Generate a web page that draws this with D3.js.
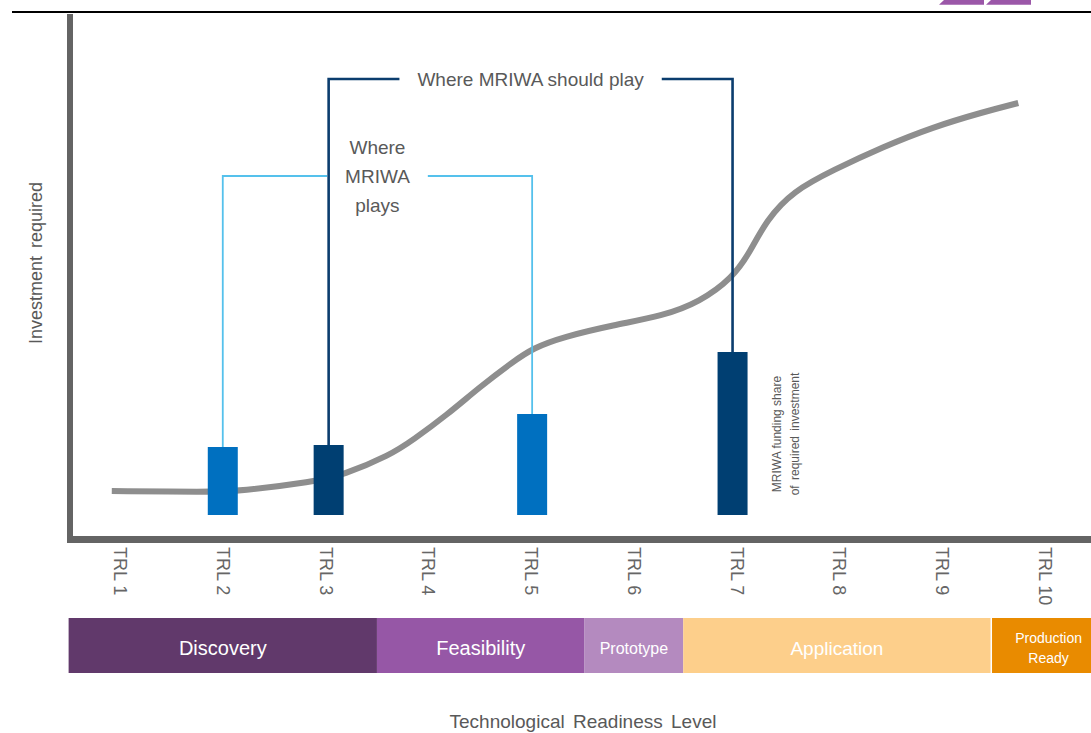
<!DOCTYPE html>
<html>
<head>
<meta charset="utf-8">
<script src="https://cdn.jsdelivr.net/npm/d3@7"></script>
<style>
  body { margin: 0; background: #fff; }
  svg { display: block; font-family: "Liberation Sans", Arial, sans-serif; }
</style>
</head>
<body>
<div id="chart"></div>
<script>
// TRL axis
const trlValues = [1, 2, 3, 4, 5, 6, 7, 8, 9, 10]
const trlLabels = ['TRL 1', 'TRL 2', 'TRL 3', 'TRL 4', 'TRL 5', 'TRL 6', 'TRL 7', 'TRL 8', 'TRL 9', 'TRL 10']

// investment curve (TRL, relative investment 0-100)
const curveTRL = [0.92, 1.85, 2.17, 2.88, 3.17, 3.63, 3.85, 4.18, 4.50, 4.82, 5.02, 5.31, 5.80, 6.28, 6.64, 6.96, 7.13, 7.29, 7.55, 7.94, 8.42, 8.91, 9.40, 9.74]
const curveInvest = [4.8, 4.6, 4.8, 6.6, 8.0, 12.0, 15.0, 20.0, 25.6, 30.6, 33.4, 35.6, 38.0, 39.8, 42.6, 47.4, 52.6, 59.0, 64.8, 69.0, 73.6, 77.6, 80.6, 82.4]

// MRIWA funding share bars
const barTRL = [2, 3.03, 5.01, 6.96]
const barShare = [13.6, 14.0, 20.2, 32.6]
const barColors = ['#0070c0', '#003f72', '#0070c0', '#003f72']

// brackets
const bracketLabels = [['Where', 'MRIWA', 'plays'], ['Where MRIWA should play']]
const bracketFrom = [0, 1]   // index into bars
const bracketTo = [2, 3]
const bracketLevel = [67.8, 87.2]
const bracketColors = ['#55c1ec', '#0b3d6e']

// phases
const phaseNames = ['Discovery', 'Feasibility', 'Prototype', 'Application', 'Production Ready']
const phaseStart = [0.5, 3.5, 5.52, 6.48, 9.47]
const phaseEnd = [3.5, 5.52, 6.48, 9.47, 10.6]
const phaseColors = ['#61396b', '#9657a6', '#b48abf', '#fdcf8b', '#e98b00']
const phaseFont = [20, 20, 16, 19, 14]

const width = 1091, height = 733
const svg = d3.select('#chart').append('svg')
    .attr('width', width)
    .attr('height', height)

let x = d3.scaleLinear().domain([1, 10]).range([120, 1045])
let y = d3.scaleLinear().domain([0, 100]).range([515, 15])

const grey = '#595959'

// header line + cut-off logo bits
svg.append('line')
    .attr('x1', 12).attr('x2', width)
    .attr('y1', 12).attr('y2', 12)
    .attr('stroke', '#000')
    .attr('stroke-width', 2.2)
svg.append('g')
    .attr('fill', '#9b57a8')
    .selectAll('path')
    .data([[939, 984], [986, 1031]])
    .enter()
    .append('path')
        .attr('d', d => `M${d[0] + 5},0H${d[1]}V4.7H${d[0]}Z`)

// curve
let line = d3.line()
    .x(d => x(d[0]))
    .y(d => y(d[1]))
    .curve(d3.curveBasis)
svg.append('path')
    .datum(curveTRL.map((t, i) => [t, curveInvest[i]]))
    .attr('d', line)
    .attr('fill', 'none')
    .attr('stroke', '#8e8e8e')
    .attr('stroke-width', 6)

// axes
svg.append('line')
    .attr('x1', 70).attr('x2', 70)
    .attr('y1', 14).attr('y2', 543)
    .attr('stroke', '#646464')
    .attr('stroke-width', 6)
svg.append('line')
    .attr('x1', 67).attr('x2', width)
    .attr('y1', 539.5).attr('y2', 539.5)
    .attr('stroke', '#646464')
    .attr('stroke-width', 7)

svg.append('g').selectAll('text')
    .data(trlValues)
    .enter()
    .append('text')
        .attr('transform', d => `translate(${x(d)},547) rotate(90)`)
        .attr('dominant-baseline', 'central')
        .attr('font-size', 18)
        .attr('fill', '#666')
        .text((d, i) => trlLabels[i])

svg.append('text')
    .attr('transform', 'translate(36,263) rotate(-90)')
    .attr('text-anchor', 'middle')
    .attr('dominant-baseline', 'central')
    .attr('font-size', 18)
    .attr('fill', grey)
    .attr('word-spacing', 3)
    .text('Investment required')

svg.append('text')
    .attr('x', 583).attr('y', 721)
    .attr('text-anchor', 'middle')
    .attr('dominant-baseline', 'central')
    .attr('font-size', 19)
    .attr('fill', grey)
    .attr('word-spacing', 3)
    .text('Technological Readiness Level')

// brackets
let bracketGroup = svg.append('g')
bracketLabels.forEach((lines, k) => {
    let x1 = x(barTRL[bracketFrom[k]])
    let x2 = x(barTRL[bracketTo[k]])
    let yl = y(bracketLevel[k])
    let cx = (x1 + x2) / 2
    let lh = 29
    let label = bracketGroup.append('text')
        .attr('text-anchor', 'middle')
        .attr('font-size', 19)
        .attr('fill', grey)
    lines.forEach((s, j) => {
        label.append('tspan')
            .attr('x', cx)
            .attr('y', yl + (j - (lines.length - 1) / 2) * lh)
            .attr('dominant-baseline', 'central')
            .text(s)
    })
    let maxW = d3.max(label.selectAll('tspan').nodes(), n => n.getComputedTextLength())
    let pad = 18
    let g = bracketGroup.insert('g', 'text')
        .attr('stroke', bracketColors[k])
        .attr('stroke-width', k === 0 ? 1.8 : 2.6)
        .attr('fill', 'none')
    g.append('path')
        .attr('d', `M${x1},${y(barShare[bracketFrom[k]])}V${yl}H${cx - maxW / 2 - pad}`)
    g.append('path')
        .attr('d', `M${cx + maxW / 2 + pad},${yl}H${x2}V${y(barShare[bracketTo[k]])}`)
})

// bars
svg.append('g').selectAll('rect')
    .data(barTRL)
    .enter()
    .append('rect')
        .attr('x', d => x(d) - 15)
        .attr('width', 30)
        .attr('y', (d, i) => y(barShare[i]))
        .attr('height', (d, i) => y(0) - y(barShare[i]))
        .attr('fill', (d, i) => barColors[i])

let note = svg.append('text')
    .attr('transform', `translate(${x(7) + 40},434) rotate(-90)`)
    .attr('text-anchor', 'middle')
    .attr('font-size', 12)
    .attr('fill', grey)
note.append('tspan').attr('x', 0).attr('y', 0).attr('dominant-baseline', 'central').text('MRIWA funding share')
note.append('tspan').attr('x', 0).attr('y', 18.5).attr('dominant-baseline', 'central').attr('word-spacing', 2).text('of required investment')

// phase band
let phases = svg.append('g')
phases.selectAll('rect')
    .data(phaseNames)
    .enter()
    .append('rect')
        .attr('x', (d, i) => x(phaseStart[i]) + (i === 4 ? 1.5 : 0))
        .attr('width', (d, i) => x(phaseEnd[i]) - x(phaseStart[i]) - (i === 4 ? 1.5 : 0))
        .attr('y', 618)
        .attr('height', 55)
        .attr('fill', (d, i) => phaseColors[i])
phases.selectAll('text')
    .data(phaseNames)
    .enter()
    .append('text')
        .attr('text-anchor', 'middle')
        .attr('font-size', (d, i) => phaseFont[i])
        .attr('fill', '#fff')
        .each(function(d, i) {
            let cx = (x(phaseStart[i]) + x(phaseEnd[i])) / 2
            let words = i === 4 ? d.split(' ') : [d]
            words.forEach((w, j) => {
                d3.select(this).append('tspan')
                    .attr('x', cx)
                    .attr('y', 648 + (j - (words.length - 1) / 2) * 20)
                    .attr('dominant-baseline', 'central')
                    .text(w)
            })
        })
</script>
</body>
</html>
